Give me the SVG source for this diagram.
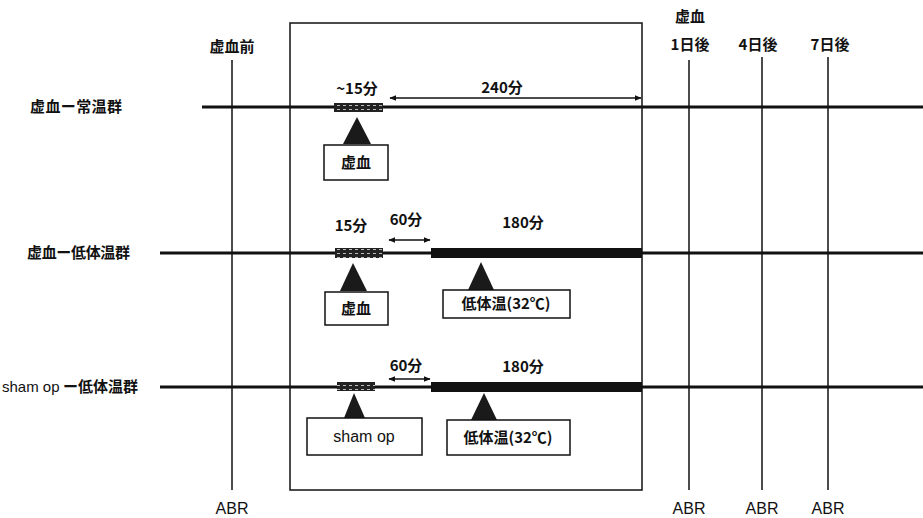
<svg xmlns="http://www.w3.org/2000/svg" width="923" height="518" viewBox="0 0 923 518">
<defs>
<style>
text{font-family:"Noto Sans CJK JP","Liberation Sans",sans-serif;fill:#111;font-size:15px;font-weight:bold}
.ab{font-family:"Liberation Sans","Noto Sans CJK JP",sans-serif;font-weight:normal;font-size:16px}
.lat{font-family:"Liberation Sans",sans-serif;font-weight:normal}
.tl{stroke:#111;stroke-width:3;fill:none}
.vl{stroke:#111;stroke-width:1.5;fill:none}
.bx{fill:#fff;stroke:#111;stroke-width:1.5}
.tri{fill:#1a1a1a}
.blk{fill:#111}
.arr{stroke:#111;stroke-width:1.5;fill:none;marker-start:url(#ah);marker-end:url(#ah)}
</style>
<pattern id="hatch" width="6" height="4" patternUnits="userSpaceOnUse">
<rect width="6" height="4" fill="#222"/>
<rect x="1" y="1" width="3" height="1" fill="#bbb"/>
</pattern>
<marker id="ah" viewBox="0 0 10 10" refX="9" refY="5" markerWidth="7" markerHeight="7" orient="auto-start-reverse" markerUnits="userSpaceOnUse">
<path d="M0,1 L10,5 L0,9 Z" fill="#111"/>
</marker>
</defs>
<rect width="923" height="518" fill="#fff"/>

<g id="frame">
<rect x="290" y="23" width="352" height="467" fill="none" stroke="#111" stroke-width="1.5"/>
</g>

<g id="connectors">
<line class="vl" x1="232" y1="60" x2="232" y2="490"/>
<line class="vl" x1="689" y1="60" x2="689" y2="490"/>
<line class="vl" x1="762" y1="57" x2="762" y2="490"/>
<line class="vl" x1="828" y1="57" x2="828" y2="490"/>
<line class="tl" x1="202" y1="107" x2="923" y2="107"/>
<line class="tl" x1="160" y1="253" x2="923" y2="253" stroke-width="2.5"/>
<line class="tl" x1="160" y1="387" x2="923" y2="387" stroke-width="2.5"/>
<line class="arr" x1="390" y1="98" x2="641" y2="98"/>
<line class="arr" x1="389" y1="240" x2="430" y2="240"/>
<line class="arr" x1="389" y1="379" x2="430" y2="379"/>
</g>

<g id="header">
<text x="232" y="52" text-anchor="middle">虚血前</text>
<text x="690" y="22" text-anchor="middle">虚血</text>
<text x="690" y="50" text-anchor="middle">1日後</text>
<text x="758" y="50" text-anchor="middle">4日後</text>
<text x="830" y="50" text-anchor="middle">7日後</text>
</g>

<g id="abr">
<text class="ab" x="232" y="514" text-anchor="middle">ABR</text>
<text class="ab" x="689" y="514" text-anchor="middle">ABR</text>
<text class="ab" x="762" y="514" text-anchor="middle">ABR</text>
<text class="ab" x="828" y="514" text-anchor="middle">ABR</text>
</g>

<g id="row1">
<text x="30" y="112" textLength="92">虚血ー常温群</text>
<rect x="334" y="103" width="49" height="9" fill="url(#hatch)"/>
<text x="357" y="94" text-anchor="middle">~15分</text>
<text x="502" y="93" text-anchor="middle">240分</text>
<polygon class="tri" points="357,117 343,144 371,144"/>
<rect class="bx" x="324" y="145" width="64" height="35"/>
<text x="356" y="168" text-anchor="middle">虚血</text>
</g>

<g id="row2">
<text x="27" y="258" textLength="103">虚血ー低体温群</text>
<rect x="335" y="248" width="48" height="10" fill="url(#hatch)"/>
<rect class="blk" x="431" y="248" width="211" height="10"/>
<text x="351" y="231" text-anchor="middle">15分</text>
<text x="406" y="225" text-anchor="middle">60分</text>
<text x="523" y="228" text-anchor="middle">180分</text>
<polygon class="tri" points="353,263 340,291 367,291"/>
<rect class="bx" x="325" y="292" width="63" height="33"/>
<text x="356" y="314" text-anchor="middle">虚血</text>
<polygon class="tri" points="481,262 468,290 494,290"/>
<rect class="bx" x="443" y="290" width="127" height="28"/>
<text x="506" y="309" text-anchor="middle">低体温(32℃)</text>
</g>

<g id="row3">
<text x="2" y="392"><tspan class="lat">sham op</tspan> ー低体温群</text>
<rect x="337" y="382" width="38" height="9" fill="url(#hatch)"/>
<rect class="blk" x="431" y="382" width="211" height="10"/>
<text x="406" y="371" text-anchor="middle">60分</text>
<text x="523" y="372" text-anchor="middle">180分</text>
<polygon class="tri" points="354,393 344,418 365,418"/>
<rect class="bx" x="307" y="418" width="115" height="37"/>
<text class="lat" x="364" y="442" text-anchor="middle" style="font-size:16px">sham op</text>
<polygon class="tri" points="484,393 471,420 497,420"/>
<rect class="bx" x="447" y="420" width="123" height="35"/>
<text x="508" y="443" text-anchor="middle">低体温(32℃)</text>
</g>
</svg>
